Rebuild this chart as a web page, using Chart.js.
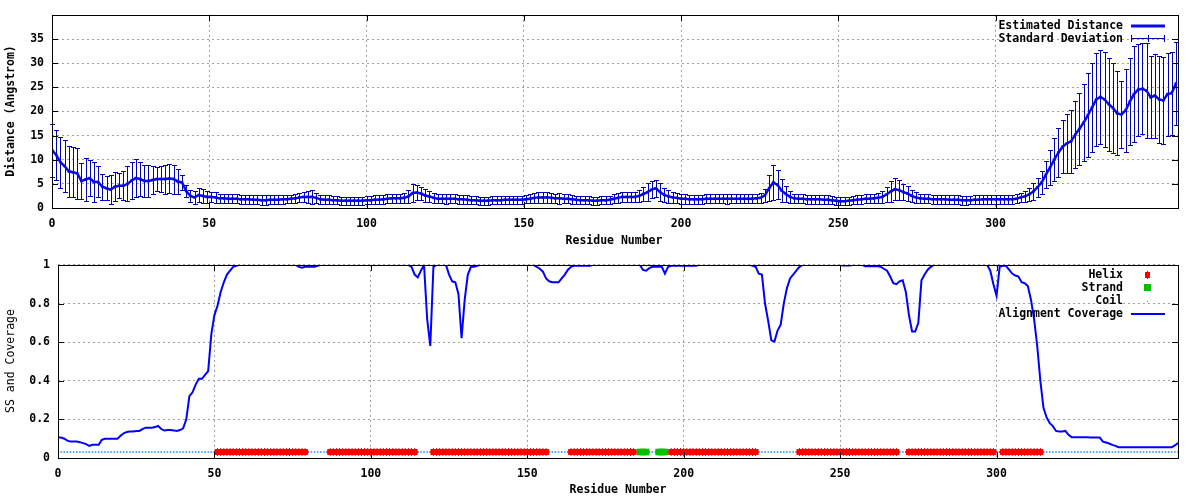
<!DOCTYPE html>
<html><head><meta charset="utf-8">
<script src="https://cdn.jsdelivr.net/npm/chart.js@4.4.1/dist/chart.umd.min.js"></script>
<style>
html,body{margin:0;padding:0;background:#fff;}
#wrap{position:relative;width:1200px;height:500px;}
#c1{position:absolute;left:0;top:0;}
#c2{position:absolute;left:0;top:250px;}
</style></head><body>
<div id="wrap">
<canvas id="c1" width="1200" height="250"></canvas>
<canvas id="c2" width="1200" height="250"></canvas>
</div>
<script>
// ---------------- DATA ----------------
// Top panel: estimated distance (mean) and its standard deviation, sampled every DIST_STEP residues
const DIST_STEP = 4/3;
const distMean = [
12.0,11.0,9.5,8.7,7.6,7.4,7.2,5.6,5.9,6.2,
5.4,5.4,4.4,4.1,3.8,4.4,4.6,4.6,5.0,5.7,
6.2,6.0,5.6,5.6,5.8,6.0,6.0,6.0,6.1,6.0,
5.5,5.3,3.5,2.5,2.2,2.7,2.5,2.3,2.3,2.2,
2.0,2.0,1.9,1.9,1.9,1.8,1.8,1.8,1.7,1.7,
1.6,1.6,1.7,1.7,1.7,1.8,1.8,1.9,2.0,2.2,
2.3,2.3,2.3,2.1,1.8,1.7,1.7,1.6,1.6,1.5,
1.5,1.5,1.5,1.5,1.5,1.6,1.6,1.7,1.7,1.8,
1.9,2.0,2.0,2.0,2.1,2.4,3.1,3.2,3.0,2.6,
2.4,2.1,1.9,1.9,1.9,1.9,1.9,1.8,1.8,1.7,
1.6,1.6,1.5,1.5,1.5,1.6,1.6,1.6,1.7,1.7,
1.7,1.7,1.7,1.8,1.9,2.1,2.2,2.2,2.2,2.1,
2.0,2.0,1.9,1.9,1.8,1.7,1.6,1.6,1.6,1.5,
1.5,1.6,1.6,1.7,1.9,2.1,2.3,2.3,2.3,2.3,
2.5,2.9,3.3,3.8,4.1,3.3,2.7,2.4,2.2,2.1,
1.9,1.9,1.8,1.8,1.8,1.8,1.9,1.9,1.9,1.9,
1.9,1.9,1.9,1.9,1.9,1.9,1.9,1.9,2.0,2.1,
2.6,4.1,5.3,4.8,3.6,2.9,2.3,2.0,1.9,1.9,
1.8,1.8,1.8,1.8,1.7,1.7,1.6,1.5,1.4,1.4,
1.5,1.6,1.7,1.8,1.9,1.9,2.0,2.1,2.3,2.8,
3.4,3.9,3.7,3.3,3.0,2.5,2.2,2.0,1.9,1.9,
1.8,1.8,1.8,1.8,1.7,1.7,1.7,1.6,1.6,1.6,
1.7,1.7,1.8,1.8,1.8,1.8,1.8,1.8,1.8,1.8,
1.9,2.2,2.4,2.8,3.4,4.3,5.3,6.9,8.4,10.0,
11.5,12.7,13.4,13.8,15.2,16.4,17.7,19.2,20.8,22.5,
23.0,22.5,21.5,20.7,19.6,19.4,20.2,22.0,23.6,24.5,
24.7,24.3,22.9,23.3,22.5,22.3,23.6,23.8,25.8
];
const distSd = [
5.5,5.2,5.3,5.4,5.3,5.2,5.3,3.8,4.5,3.8,
4.2,3.2,2.7,2.5,3.0,3.0,2.6,3.0,3.6,3.8,
4.0,3.6,3.3,3.4,2.8,2.5,2.6,3.0,3.0,3.0,
2.5,1.6,1.3,1.3,1.3,1.4,1.4,1.2,1.1,1.2,
1.0,1.0,0.9,0.9,0.9,0.9,0.9,0.9,0.9,0.9,
1.0,1.0,0.9,0.9,0.9,0.9,0.8,0.8,0.9,1.0,
1.1,1.2,1.4,1.1,0.9,0.9,0.9,0.8,0.8,0.8,
0.8,0.8,0.8,0.8,0.8,0.8,0.8,0.9,0.9,0.9,
0.9,1.0,1.0,1.0,1.1,1.3,1.9,1.6,1.4,1.4,
1.2,1.0,0.9,0.9,1.1,0.9,0.9,0.9,0.9,0.9,
0.8,0.8,0.8,0.8,0.8,0.8,0.8,0.8,0.8,0.8,
0.8,0.8,0.8,0.8,0.9,1.0,1.1,1.1,1.1,1.0,
1.0,1.1,0.9,0.9,0.9,0.8,0.8,0.8,0.8,0.8,
0.8,0.8,0.8,0.8,0.9,1.0,1.0,1.0,1.0,1.1,
1.2,1.5,1.9,1.7,1.8,1.8,1.5,1.3,1.2,1.1,
1.0,1.0,0.9,0.9,0.9,0.9,0.9,0.9,0.9,0.9,
0.9,1.0,0.9,0.9,0.9,0.9,0.9,0.9,1.0,1.1,
1.4,2.7,3.6,3.0,2.4,1.6,1.2,1.0,0.9,0.9,
0.9,0.9,0.9,0.9,0.9,0.9,0.8,0.8,0.8,0.8,
0.8,0.8,0.9,0.9,0.9,0.9,1.0,1.0,1.2,1.6,
2.2,2.3,2.0,1.7,1.5,1.2,1.1,1.0,0.9,0.9,
0.9,0.9,0.9,0.9,0.9,0.9,0.9,0.9,0.9,0.8,
0.9,0.9,0.9,0.9,0.9,0.9,0.9,0.9,0.9,0.9,
0.9,1.0,1.2,1.4,1.7,2.0,2.3,2.8,3.6,4.4,
5.0,5.5,6.1,6.5,7.0,7.5,8.0,8.7,9.3,9.7,
9.8,9.8,9.6,9.4,8.7,7.0,8.5,9.0,10.0,9.5,
9.4,9.8,8.5,8.7,9.0,9.0,8.6,8.6,8.6
];

// Bottom panel: alignment coverage per residue 0..358
const coverage = [
0.106,0.106,0.1,0.09,0.085,0.085,0.085,0.082,0.077,0.072,
0.063,0.068,0.068,0.068,0.094,0.1,0.1,0.1,0.1,0.1,
0.115,0.128,0.135,0.137,0.137,0.14,0.14,0.15,0.157,0.157,
0.157,0.16,0.166,0.15,0.142,0.145,0.145,0.143,0.14,0.145,
0.154,0.2,0.32,0.34,0.38,0.41,0.41,0.43,0.45,0.64,
0.74,0.79,0.86,0.91,0.95,0.97,0.99,0.995,1,1,
1,1,1,1,1,1,1,1,1,1,
1,1,1,1,1,1,1,0.99,0.985,0.99,
0.99,0.99,0.99,0.995,1,1,1,1,1,1,
1,1,1,1,1,1,1,1,1,1,
1,1,1,1,1,1,1,1,1,1,
1,1,1,0.99,0.95,0.935,0.97,1,0.72,0.58,
0.99,1,1,1,1,0.95,0.915,0.91,0.85,0.62,
0.82,0.95,0.99,0.99,0.995,1,1,1,1,1,
1,1,1,1,1,1,1,1,1,1,
1,1,1,0.99,0.98,0.965,0.93,0.915,0.91,0.91,
0.91,0.93,0.95,0.975,0.99,0.995,0.995,0.995,0.995,0.995,
0.995,1,1,1,1,1,1,1,1,1,
1,1,1,1,1,1,1,0.974,0.97,0.983,
0.99,0.99,0.99,0.99,0.955,0.99,0.995,0.995,0.995,0.995,
0.995,0.995,0.995,0.995,0.995,1,1,1,1,1,
1,1,1,1,1,1,1,1,1,1,
1,1,0.995,0.99,0.955,0.95,0.8,0.71,0.61,0.603,
0.66,0.69,0.8,0.88,0.93,0.95,0.97,0.99,1,1,
1,1,1,1,1,1,1,1,1,1,
1,0.997,0.997,0.997,1,1,1,1,0.993,0.993,
0.993,0.993,0.993,0.99,0.98,0.97,0.94,0.905,0.9,0.915,
0.92,0.86,0.74,0.655,0.655,0.7,0.92,0.95,0.975,0.99,
1,1,1,1,1,1,1,1,1,1,
1,1,1,1,1,1,1,1,0.97,0.9,
0.84,0.99,0.995,0.995,0.975,0.955,0.945,0.94,0.91,0.905,
0.89,0.82,0.72,0.58,0.4,0.26,0.21,0.18,0.165,0.14,
0.137,0.137,0.14,0.12,0.108,0.108,0.108,0.108,0.108,0.108,
0.106,0.106,0.106,0.106,0.085,0.08,0.075,0.068,0.063,0.056,
0.056,0.056,0.056,0.056,0.056,0.056,0.056,0.056,0.056,0.056,
0.056,0.056,0.056,0.056,0.056,0.056,0.056,0.065,0.078
];

// Secondary structure residue ranges [first, last]
const helixRanges  = [[51,79],[87,114],[120,156],[164,184],[196,223],[237,268],[272,299],[302,314]];
const strandRanges = [[186,188],[192,194]];
const coilRanges   = [[1,50],[80,86],[115,119],[157,163],[189,191],[224,236],[269,271],[300,301],[315,358]];

// Axis ticks
const xTicks = [0,50,100,150,200,250,300,350];
const distTicks = [0,5,10,15,20,25,30,35];
const covTicks = [0,0.2,0.4,0.6,0.8,1];

// ---------------- STYLE ----------------
const SS_LEVEL = 0.031;
const FONT_FAMILY = '"DejaVu Sans Mono", "Liberation Mono", monospace';
const FS = 11.5;
const LINE_COLOR = '#0a0ae6';
const BAR_COLOR = '#0000b4';
const COV_COLOR = '#0000ff';
const HELIX_COLOR = '#ff0000';
const STRAND_COLOR = '#00c000';
const COIL_COLOR = '#1e90ff';
const GRID_COLOR = '#a0a0a0';

Chart.defaults.font.family = FONT_FAMILY;
Chart.defaults.font.size = FS;
Chart.defaults.font.weight = 'bold';
Chart.defaults.color = '#000';

const distPoints = distMean.map((v, i) => ({x: i * DIST_STEP, y: v}));
const covPoints = coverage.map((v, i) => ({x: i, y: v}));
function expand(ranges) {
  const out = [];
  ranges.forEach(([a, b]) => { for (let r = a; r <= b; r++) out.push({x: r, y: SS_LEVEL}); });
  return out;
}

function keepTicks(list) {
  return (s) => { s.ticks = s.ticks.filter(t => list.some(v => Math.abs(v - t.value) < 1e-9)); };
}

function frame(chart, ctx) {
  const a = chart.chartArea, x = chart.scales.x, y = chart.scales.y;
  ctx.save();
  ctx.strokeStyle = '#000';
  ctx.lineWidth = 1;
  ctx.beginPath();
  x.ticks.forEach(t => {
    const p = Math.round(x.getPixelForValue(t.value)) + 0.5;
    ctx.moveTo(p, a.bottom); ctx.lineTo(p, a.bottom - 6);
    ctx.moveTo(p, a.top); ctx.lineTo(p, a.top + 6);
  });
  y.ticks.forEach(t => {
    const p = Math.round(y.getPixelForValue(t.value)) + 0.5;
    ctx.moveTo(a.left, p); ctx.lineTo(a.left + 6, p);
    ctx.moveTo(a.right, p); ctx.lineTo(a.right - 6, p);
  });
  ctx.stroke();
  ctx.strokeRect(Math.round(a.left) + 0.5, Math.round(a.top) + 0.5, Math.round(a.right - a.left), Math.round(a.bottom - a.top));
  ctx.restore();
}

function text(ctx, s, x, y, align, weight, rot) {
  ctx.save();
  ctx.font = weight + ' ' + FS + 'px ' + FONT_FAMILY;
  ctx.fillStyle = '#000';
  ctx.textAlign = align;
  ctx.textBaseline = 'middle';
  ctx.translate(x, y);
  if (rot) ctx.rotate(rot);
  ctx.fillText(s, 0, 0);
  ctx.restore();
}

function baseScales(yMin, yMax, yStep, yTickList, yWidth) {
  return {
    x: {
      type: 'linear', min: 0, max: 358,
      afterBuildTicks: keepTicks(xTicks),
      afterFit: s => { s.height = 42; },
      ticks: {stepSize: 50, autoSkip: false, maxRotation: 0, padding: 9, color: '#000'},
      grid: {color: GRID_COLOR, lineWidth: 1, drawTicks: false},
      border: {display: false, dash: [2, 3]}
    },
    y: {
      type: 'linear', min: yMin, max: yMax,
      afterBuildTicks: keepTicks(yTickList),
      afterFit: s => { s.width = yWidth; },
      ticks: {stepSize: yStep, autoSkip: false, padding: 8, color: '#000',
              callback: v => String(+Number(v).toFixed(2))},
      grid: {color: GRID_COLOR, lineWidth: 1, drawTicks: false},
      border: {display: false, dash: [2, 3]}
    }
  };
}

// ---------------- TOP CHART ----------------
const errorBars = {
  id: 'errorBars',
  beforeDatasetsDraw(chart) {
    const ctx = chart.ctx, xs = chart.scales.x, ys = chart.scales.y;
    ctx.save();
    ctx.strokeStyle = BAR_COLOR;
    ctx.lineWidth = 1;
    ctx.beginPath();
    distMean.forEach((m, i) => {
      const px = Math.round(xs.getPixelForValue(i * DIST_STEP)) + 0.5;
      const t = Math.round(ys.getPixelForValue(m + distSd[i])) + 0.5;
      const b = Math.round(ys.getPixelForValue(m - distSd[i])) + 0.5;
      ctx.moveTo(px, t); ctx.lineTo(px, b);
      ctx.moveTo(px - 2.5, t); ctx.lineTo(px + 2.5, t);
      ctx.moveTo(px - 2.5, b); ctx.lineTo(px + 2.5, b);
    });
    ctx.stroke();
    ctx.restore();
  },
  afterDraw(chart) {
    const ctx = chart.ctx;
    frame(chart, ctx);
    text(ctx, 'Distance (Angstrom)', 11, 111, 'center', 'bold', -Math.PI / 2);
    text(ctx, 'Residue Number', 614, 241, 'center', 'bold');
    text(ctx, 'Estimated Distance', 1123, 26, 'right', 'bold');
    text(ctx, 'Standard Deviation', 1123, 39, 'right', 'bold');
    ctx.save();
    ctx.strokeStyle = LINE_COLOR; ctx.lineWidth = 3;
    ctx.beginPath(); ctx.moveTo(1131, 26); ctx.lineTo(1165, 26); ctx.stroke();
    ctx.strokeStyle = BAR_COLOR; ctx.lineWidth = 1;
    ctx.beginPath();
    ctx.moveTo(1131, 38.5); ctx.lineTo(1165, 38.5);
    [1131.5, 1148.5, 1164.5].forEach(p => { ctx.moveTo(p, 35); ctx.lineTo(p, 42); });
    ctx.stroke();
    ctx.restore();
  }
};

new Chart(document.getElementById('c1'), {
  type: 'scatter',
  data: {
    datasets: [{
      label: 'Estimated Distance',
      data: distPoints,
      showLine: true,
      borderColor: LINE_COLOR,
      backgroundColor: LINE_COLOR,
      borderWidth: 2.5,
      pointStyle: 'rect',
      pointRadius: 1.8,
      pointBorderWidth: 0,
      tension: 0
    }]
  },
  options: {
    responsive: false, animation: false, devicePixelRatio: 1,
    layout: {padding: {top: 14, right: 22, left: 0, bottom: 0}},
    plugins: {legend: {display: false}, tooltip: {enabled: false}},
    scales: baseScales(0, 40, 5, distTicks, 52)
  },
  plugins: [errorBars]
});

// ---------------- BOTTOM CHART ----------------
const bottomDecor = {
  id: 'bottomDecor',
  afterDraw(chart) {
    const ctx = chart.ctx;
    frame(chart, ctx);
    text(ctx, 'SS and Coverage', 11, 111, 'center', 'normal', -Math.PI / 2);
    text(ctx, 'Residue Number', 618, 240, 'center', 'bold');
    text(ctx, 'Helix', 1123, 25, 'right', 'bold');
    text(ctx, 'Strand', 1123, 38, 'right', 'bold');
    text(ctx, 'Coil', 1123, 51, 'right', 'bold');
    text(ctx, 'Alignment Coverage', 1123, 64, 'right', 'bold');
    ctx.save();
    ctx.fillStyle = HELIX_COLOR;
    ctx.fillRect(1145, 22, 5, 6);
    ctx.fillRect(1147, 21, 1, 8);
    ctx.fillStyle = STRAND_COLOR;
    ctx.fillRect(1144, 34, 7, 7);
    ctx.fillStyle = COIL_COLOR;
    ctx.fillRect(1147, 51, 1, 1);
    ctx.strokeStyle = COV_COLOR; ctx.lineWidth = 2;
    ctx.beginPath(); ctx.moveTo(1131, 64); ctx.lineTo(1165, 64); ctx.stroke();
    ctx.restore();
  }
};

new Chart(document.getElementById('c2'), {
  type: 'scatter',
  data: {
    datasets: [
      {label: 'Alignment Coverage', data: covPoints, showLine: true, borderColor: COV_COLOR,
       borderWidth: 2, pointRadius: 0, tension: 0, order: 0},
      {label: 'Helix', data: expand(helixRanges), pointStyle: 'cross', pointRadius: 4,
       borderColor: HELIX_COLOR, pointBorderWidth: 1, order: 1},
      {label: 'Helix', data: expand(helixRanges), pointStyle: 'rect', pointRadius: 4.2,
       backgroundColor: HELIX_COLOR, borderColor: HELIX_COLOR, pointBorderWidth: 0, order: 2},
      {label: 'Strand', data: expand(strandRanges), pointStyle: 'rect', pointRadius: 4.7,
       backgroundColor: STRAND_COLOR, borderColor: STRAND_COLOR, pointBorderWidth: 0, order: 1},
      {label: 'Coil', data: expand(coilRanges), pointStyle: 'rect', pointRadius: 1.1,
       backgroundColor: COIL_COLOR, borderColor: COIL_COLOR, pointBorderWidth: 0, order: 3}
    ]
  },
  options: {
    responsive: false, animation: false, devicePixelRatio: 1,
    layout: {padding: {top: 13, right: 22, left: 0, bottom: 0}},
    plugins: {legend: {display: false}, tooltip: {enabled: false}},
    scales: baseScales(0, 1, 0.2, covTicks, 58)
  },
  plugins: [bottomDecor]
});
</script>
</body></html>
